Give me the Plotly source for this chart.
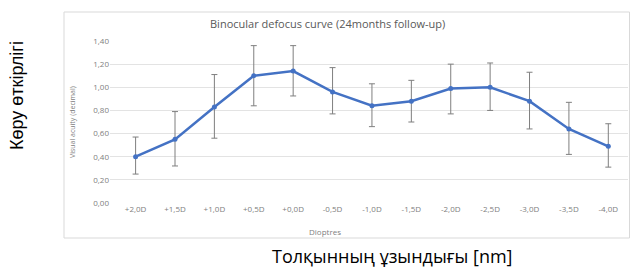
import plotly.graph_objects as go

categories = ["+2,0D", "+1,5D", "+1,0D", "+0,5D", "+0,0D", "-0,5D", "-1,0D",
              "-1,5D", "-2,0D", "-2,5D", "-3,0D", "-3,5D", "-4,0D"]
acuity = [0.40, 0.55, 0.83, 1.10, 1.14, 0.96, 0.84, 0.88, 0.99, 1.00, 0.88, 0.64, 0.49]
err_upper = [0.57, 0.79, 1.11, 1.36, 1.36, 1.17, 1.03, 1.06, 1.20, 1.21, 1.13, 0.87, 0.685]
err_lower = [0.25, 0.32, 0.56, 0.84, 0.925, 0.77, 0.66, 0.70, 0.77, 0.80, 0.64, 0.42, 0.31]
y_ticks = [0, 0.2, 0.4, 0.6, 0.8, 1.0, 1.2, 1.4]
y_tick_labels = ["0,00", "0,20", "0,40", "0,60", "0,80", "1,00", "1,20", "1,40"]

plus = [u - v for u, v in zip(err_upper, acuity)]
minus = [v - l for v, l in zip(acuity, err_lower)]

L, T, W, H = 110, 41, 518, 162


def px(x):
    return (x - L) / W


def py(y):
    return (T + H - y) / H


fig = go.Figure()
fig.add_trace(go.Scatter(
    x=list(range(len(categories))), y=acuity, mode="lines+markers",
    line=dict(color="#4472C4", width=2.5),
    marker=dict(color="#4472C4", size=5),
    error_y=dict(type="data", array=plus, arrayminus=minus, symmetric=False,
                 color="#7f7f7f", thickness=1, width=3),
    showlegend=False,
))

fig.update_layout(
    width=630, height=269,
    margin=dict(l=L, r=630 - L - W, t=T, b=269 - T - H),
    paper_bgcolor="white", plot_bgcolor="white",
    font=dict(family="Open Sans, sans-serif", color="#808080"),
    xaxis=dict(range=[-0.65, 12.5], tickvals=list(range(len(categories))),
               ticktext=categories, showgrid=False, zeroline=False,
               tickfont=dict(size=8, color="#808080"), ticks="", ticklen=0,
               showline=False),
    yaxis=dict(range=[0, 1.4], tickvals=y_ticks, ticktext=y_tick_labels,
               showgrid=True, gridcolor="#e3e3e3", gridwidth=1, zeroline=False,
               tickfont=dict(size=8, color="#808080"), ticks="", showline=False),
    shapes=[dict(type="rect", xref="paper", yref="paper",
                 x0=px(64), x1=px(629.5), y0=py(238), y1=py(12),
                 line=dict(color="#d9d9d9", width=1), fillcolor="rgba(0,0,0,0)")],
    annotations=[
        dict(text="Binocular defocus curve (24months follow-up)", xref="paper", yref="paper",
             x=px(327), y=py(24), xanchor="center", yanchor="middle",
             showarrow=False, font=dict(size=11, color="#595959")),
        dict(text="Visual acuity (decimal)", xref="paper", yref="paper",
             x=px(72), y=0.5, xanchor="center", yanchor="middle", textangle=-90,
             showarrow=False, font=dict(size=7, color="#808080")),
        dict(text="Dioptres", xref="paper", yref="paper",
             x=px(325), y=py(232), xanchor="center", yanchor="middle",
             showarrow=False, font=dict(size=8, color="#808080")),
        dict(text="Көру өткірлігі", xref="paper", yref="paper",
             x=px(17), y=py(96), xanchor="center", yanchor="middle",
             textangle=-90, showarrow=False,
             font=dict(size=18, color="black", family="Liberation Sans, Arial")),
        dict(text="Толқынның ұзындығы [nm]", xref="paper", yref="paper",
             x=px(392), y=py(256), xanchor="center", yanchor="middle",
             showarrow=False, font=dict(size=18, color="black", family="Open Sans")),
    ],
)

fig.write_html("out.html", config={"displayModeBar": False},
               post_script="document.body.style.margin='0';")
